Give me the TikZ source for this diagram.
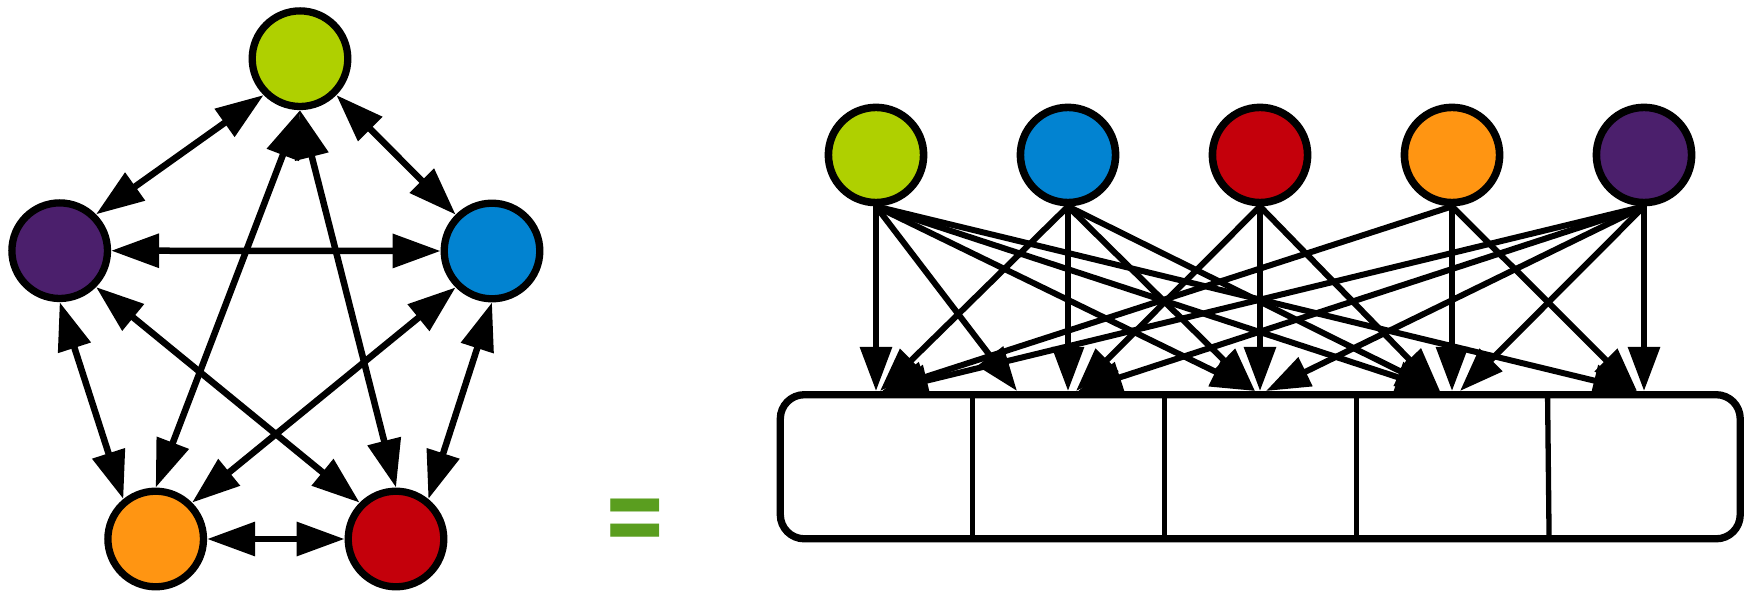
\documentclass[tikz,border=0pt]{standalone}
\usepackage{fontspec}
\usetikzlibrary{arrows.meta,calc}
\definecolor{cgreen}{HTML}{AFD000}
\definecolor{cblue}{HTML}{0283D1}
\definecolor{cred}{HTML}{C4000B}
\definecolor{corange}{HTML}{FF9512}
\definecolor{cpurple}{HTML}{4B1F6C}
\definecolor{ceq}{HTML}{5A9E1F}
\newfontfamily\eqfont{DejaVu Sans}
\tikzset{
  lnode/.style={circle,draw=black,line width=3.65pt,minimum size=47.8pt,inner sep=0pt},
  rnode/.style={circle,draw=black,line width=3.8pt,minimum size=47.6pt,inner sep=0pt},
  ledge/.style={line width=3.25pt,{Triangle[length=24pt,width=16.5pt]}-{Triangle[length=24pt,width=16.5pt]}},
  redge/.style={line width=3pt,-{Triangle[length=22pt,width=15.5pt]}},
  recbox/.style={draw=black,line width=3.65pt,rounded corners=12pt,minimum width=479.95pt,minimum height=72.05pt,inner sep=0pt,outer sep=0pt},
  divider/.style={line width=2.65pt},
  eqsign/.style={font=\eqfont\bfseries\fontsize{39pt}{39pt}\selectfont,text=ceq,inner sep=0pt}
}
\begin{document}
\begin{tikzpicture}[x=0.5pt,y=-0.5pt]
\useasboundingbox (0,0) rectangle (1748,592);
% ---------- left graph ----------
\node[lnode,fill=cgreen]  (G) at (300,58.7) {};
\node[lnode,fill=cpurple] (P) at (59.7,250.7) {};
\node[lnode,fill=cblue]   (B) at (492,251) {};
\node[lnode,fill=corange] (O) at (155.7,539) {};
\node[lnode,fill=cred]    (R) at (396,539) {};
\draw[ledge] (G.225) -- (P.45);
\draw[ledge] (G.315) -- (B.135);
\draw[ledge] (P.east) -- (B.west);
\draw[ledge] (P.south) -- (O.129);
\draw[ledge] (P.-45) -- (R.135);
\draw[ledge] (G.south) -- (O.north);
\draw[ledge] (G.south) -- (R.north);
\draw[ledge] (B.225) -- (O.45);
\draw[ledge] (B.south) -- (R.51);
\draw[ledge] (O.east) -- (R.west);
% ---------- equals ----------
\node[eqsign] (eq) at (635,526.3) {\scalebox{1}[1.45]{=}};
% ---------- right graph ----------
\node[rnode,fill=cgreen]  (r1) at (876,155) {};
\node[rnode,fill=cblue]   (r2) at (1068,155) {};
\node[rnode,fill=cred]    (r3) at (1260,155) {};
\node[rnode,fill=corange] (r4) at (1452,155) {};
\node[rnode,fill=cpurple] (r5) at (1644,155) {};
\node[recbox] (rec) at (1260.25,466.75) {};
\draw[divider] ($(rec.north west)!0.2!(rec.north east)$) -- ($(rec.south west)!0.2!(rec.south east)$);
\draw[divider] ($(rec.north west)!0.4!(rec.north east)$) -- ($(rec.south west)!0.4!(rec.south east)$);
\draw[divider] ($(rec.north west)!0.6!(rec.north east)$) -- ($(rec.south west)!0.6!(rec.south east)$);
\draw[divider] ($(rec.north west)!0.7993!(rec.north east)$) -- ($(rec.south west)!0.8009!(rec.south east)$);
% arrow end points on the top of the record
\coordinate (g1) at (876,391);  \coordinate (g2) at (1017,391); \coordinate (g3) at (1255,391);
\coordinate (g4) at (1440,391); \coordinate (g5) at (1637,391);
\coordinate (b1) at (880,391);  \coordinate (b2) at (1068,391); \coordinate (b3) at (1255,391);
\coordinate (b4) at (1440,391);
\coordinate (d2) at (1076,391); \coordinate (d3) at (1260,391); \coordinate (d4) at (1440,391);
\coordinate (o1) at (882,391);  \coordinate (o4) at (1452,391); \coordinate (o5) at (1637,391);
\coordinate (p1) at (884,391);  \coordinate (p2) at (1078,391); \coordinate (p3) at (1266,391);
\coordinate (p4) at (1460,391); \coordinate (p5) at (1644,391);
\draw[redge] (r1.south) -- (g1);
\draw[redge] (r1.south) -- (g2);
\draw[redge] (r1.south) -- (g3);
\draw[redge] (r1.south) -- (g4);
\draw[redge] (r1.south) -- (g5);
\draw[redge] (r2.south) -- (b1);
\draw[redge] (r2.south) -- (b2);
\draw[redge] (r2.south) -- (b3);
\draw[redge] (r2.south) -- (b4);
\draw[redge] (r3.south) -- (d2);
\draw[redge] (r3.south) -- (d3);
\draw[redge] (r3.south) -- (d4);
\draw[redge] (r4.south) -- (o1);
\draw[redge] (r4.south) -- (o4);
\draw[redge] (r4.south) -- (o5);
\draw[redge] (r5.south) -- (p1);
\draw[redge] (r5.south) -- (p2);
\draw[redge] (r5.south) -- (p3);
\draw[redge] (r5.south) -- (p4);
\draw[redge] (r5.south) -- (p5);
\end{tikzpicture}
\end{document}
